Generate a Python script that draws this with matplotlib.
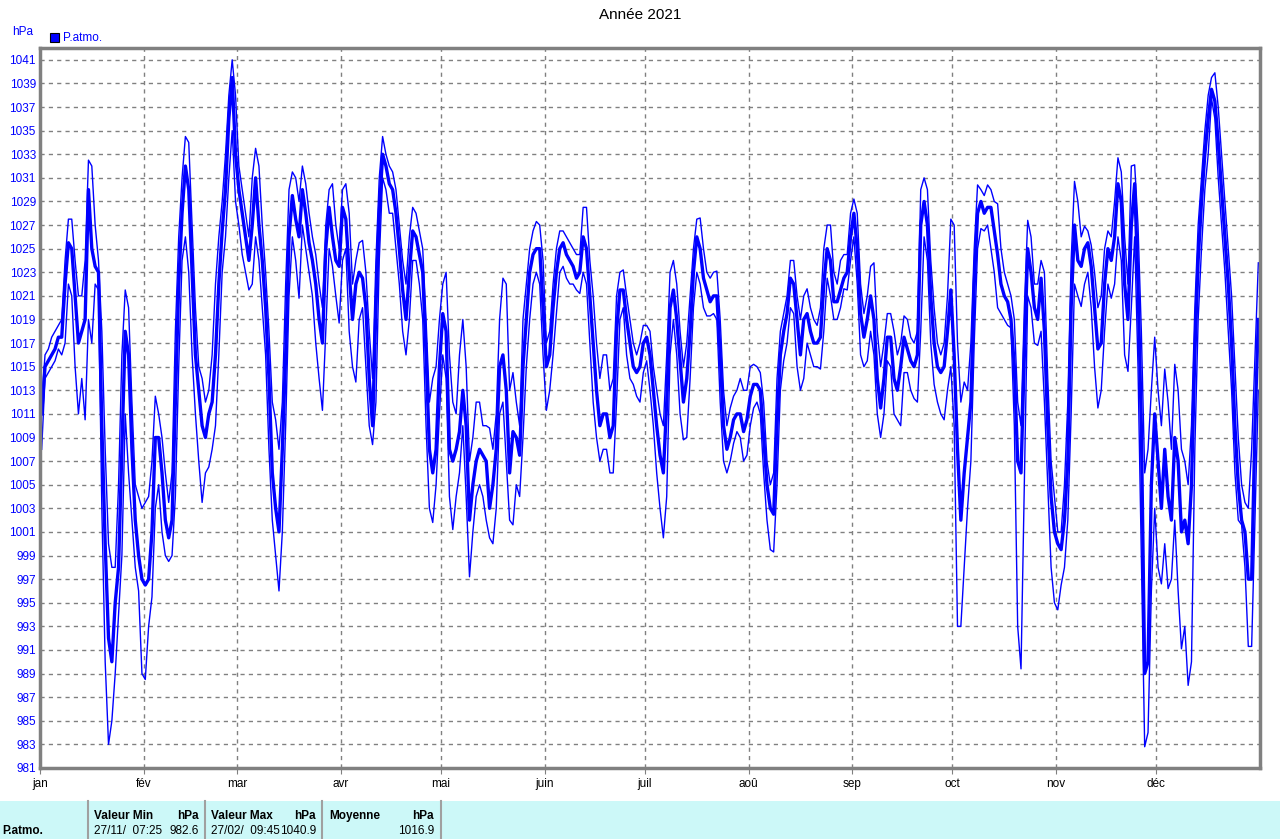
import numpy as np
import matplotlib
matplotlib.use("Agg")
import matplotlib.pyplot as plt
from matplotlib.patches import Rectangle

plt.rcParams['font.family'] = ['Liberation Sans', 'DejaVu Sans']

title = "Année 2021"
unit = "hPa"
series_name = "P.atmo."
month_labels = ["jan", "fév", "mar", "avr", "mai", "juin", "juil", "aoû", "sep", "oct", "nov", "déc"]
month_starts = [0, 31, 59, 90, 120, 151, 181, 212, 243, 273, 304, 334]
n_days = 365

p_mean = [
    1011, 1015, 1015.5, 1016, 1016.5, 1017.5, 1017.5, 1022, 1025.5, 1025, 1021, 1017, 1018, 1019, 1030, 1025,
    1023.5, 1023, 1010, 1000, 992, 990, 995, 998, 1008, 1018, 1016, 1008, 1002, 999, 997, 996.5, 997, 1001,
    1009, 1009, 1006, 1002, 1000.5, 1002, 1012, 1022, 1028, 1032, 1030, 1023, 1016, 1013, 1010, 1009, 1011,
    1012, 1016,
    1022, 1026.5, 1030, 1036, 1039.5, 1033, 1030, 1028, 1026, 1024, 1027, 1031, 1027, 1024, 1020, 1014, 1006,
    1003, 1001, 1008, 1016, 1026, 1029.5, 1027.5, 1026, 1030, 1028, 1025.5, 1024, 1022, 1019, 1017, 1025,
    1028.5, 1026, 1024, 1023.5, 1028.5, 1027.5, 1023, 1019, 1022, 1023, 1022.5, 1020, 1014, 1010, 1020, 1028,
    1033, 1032, 1030.5,
    1030, 1028, 1025, 1021.5, 1019, 1023, 1026.5, 1026, 1024.5, 1023, 1016, 1008, 1006, 1008, 1015, 1019.5,
    1018, 1008, 1007, 1008, 1009.5, 1013, 1010, 1002, 1005, 1007, 1008, 1007.5, 1007, 1003, 1005, 1008, 1015,
    1016, 1013, 1006, 1009.5, 1009, 1007.5, 1015, 1019, 1023, 1024.5, 1025, 1025, 1020, 1015, 1016, 1020,
    1023, 1025, 1025.5,
    1024.5, 1024, 1023.5, 1022.5, 1023, 1026, 1025, 1021, 1017, 1013, 1010, 1011, 1011, 1009, 1010, 1018,
    1021.5, 1021.5, 1019, 1017, 1015, 1014.5, 1015, 1017, 1017.5, 1016, 1013, 1010, 1007.5, 1006, 1012, 1020,
    1021.5, 1019, 1015.5, 1012, 1014, 1018, 1023, 1026, 1025, 1022.5, 1021.5, 1020.5, 1021, 1021, 1016, 1010,
    1008, 1009, 1010.5, 1011,
    1011, 1009.5, 1010.5, 1012.5, 1013.5, 1013.5, 1013, 1009, 1005, 1003, 1002.5, 1010, 1016, 1018, 1019.5,
    1022.5, 1022, 1019, 1016, 1019, 1019.5, 1018, 1017, 1017, 1017.5, 1022, 1025, 1024, 1020.5, 1020.5,
    1021.5, 1022.5, 1023, 1026, 1028, 1025, 1019.5, 1017.5, 1019, 1021, 1019, 1014, 1011.5, 1014, 1017.5,
    1017.5, 1014, 1013, 1015, 1017.5, 1016.5, 1015.5, 1015,
    1016, 1027, 1029, 1027, 1021, 1017, 1015, 1014.5, 1015, 1018, 1021.5, 1016, 1008, 1002, 1006, 1009, 1012,
    1022, 1028, 1029, 1028, 1028.5, 1028.5, 1026.5, 1024.5, 1022, 1021, 1020.5, 1019, 1015, 1007, 1006, 1016,
    1025, 1023, 1020, 1019, 1022.5, 1018, 1010, 1004, 1001, 1000, 999.5, 1002, 1007, 1020, 1027, 1024,
    1023.5, 1025, 1025.5,
    1023.5, 1020, 1016.5, 1017, 1022, 1025, 1024, 1026, 1030.5, 1029, 1022, 1019, 1027, 1030.5, 1022, 1010,
    989, 990, 1005, 1011, 1007, 1003, 1008, 1004, 1002, 1009, 1007, 1001, 1002, 1000, 1005, 1016, 1024, 1029,
    1033, 1036, 1038.5, 1037.5, 1034, 1030, 1026, 1022, 1017, 1010, 1005, 1002, 1001, 997, 997, 1010, 1019,
]

p_max = [
    1012, 1016, 1016.5, 1017.5, 1018, 1018.5, 1019, 1024, 1027.5, 1027.5, 1024, 1021, 1021, 1024, 1032.5, 1032,
    1027, 1024, 1018, 1008, 1000, 998, 998, 1005, 1016, 1021.5, 1020, 1012, 1005, 1004, 1003, 1003.5, 1004,
    1007, 1012.5, 1011, 1009, 1006, 1003.5, 1006, 1018, 1026, 1031, 1034.5, 1034, 1027, 1020, 1015, 1014,
    1012, 1013, 1016, 1022,
    1026, 1029, 1033, 1038, 1041, 1038, 1032, 1030, 1028, 1026, 1031, 1033.5, 1032, 1027, 1023, 1018, 1012,
    1010.5, 1008, 1012, 1022, 1030, 1031.5, 1031, 1029, 1032, 1030.5, 1028, 1026, 1024.5, 1022, 1020, 1027,
    1030, 1030.5, 1027, 1025, 1030, 1030.5, 1028, 1022, 1024, 1025.5, 1025.7, 1023, 1018, 1014, 1024, 1031,
    1034.5, 1033, 1032,
    1031.5, 1030, 1027, 1024, 1022, 1026, 1028.5, 1028, 1026.5, 1025, 1019, 1012, 1014, 1015, 1019, 1022,
    1023, 1016, 1012, 1011, 1016, 1019, 1015, 1007, 1009, 1012, 1012, 1010, 1010, 1009.8, 1008, 1011, 1019,
    1022.5, 1022, 1013, 1014.5, 1012, 1010, 1019, 1022, 1025, 1026.5, 1027.3, 1027, 1024, 1017, 1018, 1022,
    1025, 1026.5, 1026.5,
    1026, 1025.5, 1025, 1024.5, 1024.5, 1028.5, 1028.5, 1024, 1021, 1017, 1014, 1016, 1016, 1013, 1014, 1021,
    1023, 1023.2, 1021, 1019, 1017, 1016, 1017, 1018.5, 1018.5, 1018, 1015, 1013, 1011, 1010, 1016, 1023,
    1024, 1022, 1018, 1015, 1017, 1021, 1025, 1027.5, 1027.6, 1025, 1023, 1022.5, 1023, 1023.1, 1019, 1013,
    1010, 1011.5, 1012.5, 1013,
    1014, 1013, 1013, 1015, 1015.2, 1015, 1014.5, 1012, 1007, 1005, 1006, 1014, 1018, 1019.5, 1021, 1024,
    1024, 1021, 1019, 1021, 1021.6, 1020, 1019, 1018.5, 1020, 1025, 1027, 1027, 1023, 1022, 1024, 1024.5,
    1024.5, 1028, 1029.2, 1028, 1022, 1019.5, 1021, 1023.5, 1023.8, 1018, 1015, 1017, 1019.5, 1019.5, 1018,
    1016, 1017, 1019.3, 1019, 1017.5, 1017,
    1018, 1030, 1031, 1030, 1024, 1020, 1017, 1016, 1017, 1021, 1027.5, 1027, 1017, 1012, 1013.7, 1013, 1017,
    1025, 1030.4, 1030, 1029.5, 1030.4, 1030, 1029, 1028.8, 1025, 1023, 1022, 1021, 1019, 1012, 1010, 1020,
    1027.4, 1026, 1022, 1022, 1024, 1023, 1014, 1007, 1004, 1001, 1001, 1005, 1012, 1024, 1030.7, 1029, 1026,
    1026.9, 1026.5,
    1025.3, 1023, 1020, 1021, 1025, 1026.5, 1026, 1029, 1032.7, 1031.5, 1026, 1022, 1032, 1032.1, 1027, 1018,
    1006, 1008, 1013, 1017.5, 1013, 1010, 1014.8, 1012, 1008, 1015.2, 1013, 1008, 1007, 1005, 1010, 1020,
    1027, 1031, 1035, 1038, 1039.5, 1039.9, 1037, 1033, 1029, 1025, 1021, 1015, 1009, 1005, 1003.5, 1003,
    1008, 1016, 1023.8,
]

p_min = [
    1008, 1014, 1014.5, 1015, 1015.5, 1016.5, 1016, 1017, 1022, 1021, 1015, 1011, 1014, 1010.5, 1019, 1017,
    1022, 1021.5, 1003, 990, 983, 985, 989, 994, 999, 1011, 1006, 1002, 998, 996, 989, 988.5, 993, 995.5,
    1003, 1005, 1001, 999, 998.5, 999, 1004, 1015, 1024, 1026, 1023, 1016, 1011, 1007, 1003.5, 1006, 1006.5,
    1008, 1010,
    1016, 1023, 1026, 1031, 1035, 1029, 1027, 1024.5, 1023, 1021.5, 1022, 1026, 1024, 1020, 1016, 1008, 1002,
    999, 996, 1001, 1010, 1021, 1026, 1024, 1020.8, 1027, 1025, 1023, 1021, 1017, 1014, 1011.3, 1018, 1025,
    1023.5, 1021, 1018.7, 1024, 1025, 1018, 1015, 1013.7, 1019, 1020, 1015, 1010, 1008.4, 1012, 1024, 1031,
    1030, 1028,
    1028, 1025, 1022, 1018, 1016, 1019, 1024, 1024, 1022, 1019, 1010, 1003, 1001.8, 1005, 1011, 1016, 1014,
    1004, 1001.2, 1004, 1006, 1010, 1004, 997.2, 1001, 1004, 1005, 1004, 1002, 1000.5, 1000, 1003, 1011,
    1012, 1007, 1002, 1001.6, 1005, 1004, 1009, 1015, 1019, 1022, 1023, 1022, 1016, 1011.3, 1013, 1016,
    1019.5, 1023, 1023.5,
    1022.5, 1022, 1022, 1021.5, 1021.2, 1023, 1022, 1017, 1012, 1009, 1007, 1008, 1008, 1006, 1006, 1012,
    1019, 1020, 1016, 1014, 1013.5, 1012.5, 1012, 1014.5, 1015.5, 1013, 1010, 1006, 1003, 1000.5, 1004, 1016,
    1019, 1016, 1011, 1008.8, 1009, 1014, 1020, 1023, 1022, 1020, 1019.3, 1019.3, 1019.5, 1019, 1012, 1007,
    1006, 1007, 1008.5, 1009.5,
    1009, 1007, 1007.5, 1010, 1011.5, 1012, 1011, 1006, 1002, 999.5, 999.3, 1005, 1013, 1015.5, 1017, 1020,
    1019.5, 1015, 1013, 1014, 1017, 1016, 1015, 1015, 1014.8, 1018, 1022.5, 1021, 1019, 1019, 1020, 1021.6,
    1021.5, 1024, 1026, 1022, 1016, 1015, 1015.5, 1018, 1016, 1011, 1009, 1011, 1015.5, 1015, 1011, 1010.5,
    1010, 1014.5, 1014.5, 1013, 1012.3,
    1012, 1018, 1026, 1024, 1017, 1013.5, 1012, 1011, 1010.5, 1013, 1015, 1010, 993, 993, 998, 1003, 1007,
    1017, 1025, 1026.7, 1026.5, 1027, 1025, 1023, 1020, 1019.5, 1019, 1018.5, 1018.3, 1010, 993, 989.4, 1005,
    1021, 1020, 1017, 1016.8, 1018, 1012, 1005, 998, 995, 994.4, 996.5, 998, 1002, 1011, 1022, 1021, 1020.1,
    1022, 1023,
    1020, 1015, 1011.5, 1013, 1018, 1022, 1020.8, 1022, 1026, 1024, 1016, 1014.6, 1020, 1026, 1015, 999,
    982.8, 984, 996, 1003, 998, 996.6, 1000, 996.2, 997, 1002, 996, 991.1, 993, 988, 990, 1008, 1019, 1025,
    1030, 1033, 1037.7, 1036, 1031, 1027, 1023, 1018, 1013, 1006, 1002, 1001.6, 998, 991.3, 991.3, 1002, 1013,
]

table_headers = ["Valeur Min", "Valeur Max", "Moyenne"]
table_dates = ["27/11/  07:25", "27/02/  09:45", ""]
table_values = ["982.6", "1040.9", "1016.9"]

BLUE = "#0000FF"
GRAY = "#808080"

fig = plt.figure(figsize=(12.8, 8.39), dpi=100)
fig.patch.set_facecolor("white")
W, H = 1280, 839

ax = fig.add_axes([40 / W, 1 - 768 / H, 1220 / W, 720 / H])
days = np.arange(n_days) + 0.5
ax.plot(days, p_max, color=BLUE, lw=1.0)
ax.plot(days, p_min, color=BLUE, lw=1.0)
ax.plot(days, p_mean, color=BLUE, lw=2.4)

ax.set_xlim(0, n_days)
ax.set_ylim(981, 981 + 61.0)
yt = np.arange(981, 1042, 2)
ax.set_yticks(yt)
ax.set_yticklabels([str(v) for v in yt], color=BLUE, fontsize=8.5)
ax.tick_params(axis="y", length=0, pad=3)
ax.set_xticks(month_starts)
ax.set_xticklabels(month_labels, fontsize=8.5, color="black")
ax.tick_params(axis="x", length=4, pad=3, color=GRAY)
ax.grid(True, color=GRAY, linestyle=(0, (3, 3)), linewidth=1.0)
ax.set_axisbelow(True)
for s in ax.spines.values():
    s.set_color(GRAY)
    s.set_linewidth(2.5)

fig.text(640 / W, 1 - 15 / H, title, ha="center", va="center", fontsize=11)
fig.text(12 / W, 1 - 32 / H, unit, ha="left", va="center", fontsize=8.5, color=BLUE)
fig.patches.append(Rectangle((50 / W, 1 - 42 / H), 9 / W, 9 / H, transform=fig.transFigure,
                             facecolor=BLUE, edgecolor="black", lw=0.8))
fig.text(63 / W, 1 - 38 / H, series_name, ha="left", va="center", fontsize=8.5, color=BLUE)

# footer table
fig.patches.append(Rectangle((0, 0), 1, (H - 801) / H, transform=fig.transFigure,
                             facecolor="#CCF8F8", edgecolor="none"))
for xs in [88, 205, 322, 441]:
    fig.add_artist(plt.Line2D([xs / W, xs / W], [0, (H - 801) / H], transform=fig.transFigure,
                              color="#A0A0A0", lw=1.5))
y1 = 1 - 816 / H
y2 = 1 - 831 / H
fig.text(2 / W, y2, series_name, ha="left", va="center", fontsize=8.5, fontweight="bold")
col_left = [94, 211, 329]
col_right = [199, 316, 434]
for i in range(3):
    fig.text(col_left[i] / W, y1, table_headers[i], ha="left", va="center", fontsize=8.5, fontweight="bold")
    fig.text(col_right[i] / W, y1, unit, ha="right", va="center", fontsize=8.5, fontweight="bold")
    if table_dates[i]:
        fig.text(col_left[i] / W, y2, table_dates[i], ha="left", va="center", fontsize=8.5)
    fig.text(col_right[i] / W, y2, table_values[i], ha="right", va="center", fontsize=8.5)

fig.savefig("out.png", dpi=100)
